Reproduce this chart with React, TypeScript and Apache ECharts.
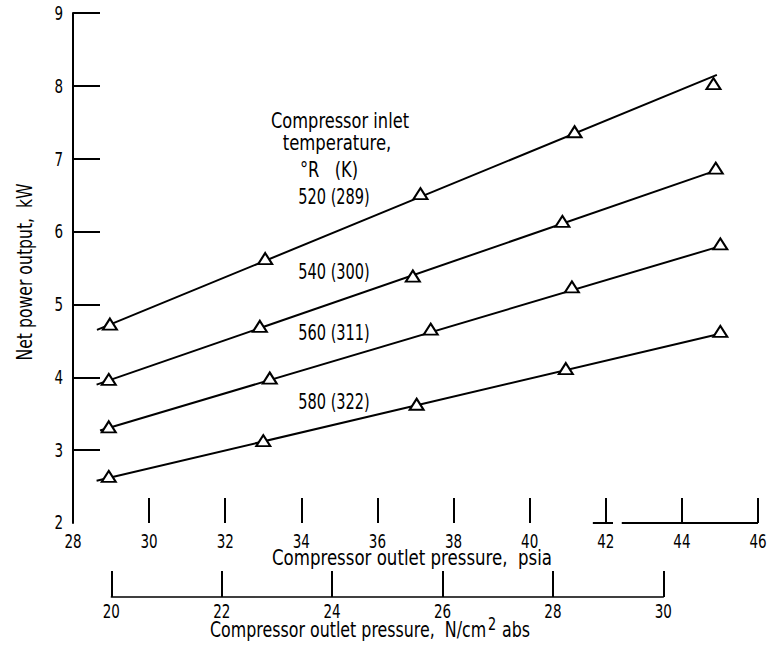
import React, { useEffect, useRef } from "react";
import * as echarts from "echarts";

// ---------- data ----------
const psiaRange = [28, 46];
const psiaStep = 2;
const powerRange = [2, 9];
const powerStep = 1;
const ncm2Range = [20, 30];
const ncm2Step = 2;
const PSI_TO_NCM2 = 0.689476;

const psiaTickLabels = ["28", "30", "32", "34", "36", "38", "40", "42", "44", "46"];
const powerTickLabels = ["2", "3", "4", "5", "6", "7", "8", "9"];
const ncm2TickLabels = ["20", "22", "24", "26", "28", "30"];

// measured points (psia, kW)
const points520 = [[28.97, 4.73], [33.05, 5.63], [37.13, 6.52], [41.18, 7.37], [44.83, 8.03]];
const points540 = [[28.94, 3.97], [32.91, 4.7], [36.93, 5.39], [40.86, 6.14], [44.89, 6.87]];
const points560 = [[28.94, 3.32], [33.17, 3.99], [37.4, 4.66], [41.11, 5.24], [45.01, 5.83]];
const points580 = [[28.94, 2.64], [33.0, 3.13], [37.03, 3.63], [40.95, 4.12], [45.01, 4.63]];

// faired lines (psia, kW)
const fit520 = [[28.63, 4.65], [44.92, 8.15]];
const fit540 = [[28.62, 3.9], [44.85, 6.83]];
const fit560 = [[28.71, 3.27], [44.95, 5.79]];
const fit580 = [[28.62, 2.58], [44.95, 4.59]];

// visible pieces of the psia axis line (psia)
const psiaAxisSegments = [[41.66, 42.19], [42.42, 46]];

const legendTitleLines = ["Compressor inlet", "temperature,", "\u00B0R   (K)"];
const seriesLabels = ["520 (289)", "540 (300)", "560 (311)", "580 (322)"];

const yAxisName = "Net power output,  kW";
const psiaAxisName = "Compressor outlet pressure,  psia";
const ncm2AxisNameParts = ["Compressor outlet pressure,  N/cm", "2", " abs"];

const FONT = '"Liberation Sans Narrow", "DejaVu Sans Condensed", "Arial Narrow", sans-serif';

export default function App() {
  const ref = useRef<HTMLDivElement>(null);

  useEffect(() => {
    if (!ref.current) return;
    const chart = echarts.init(ref.current, null, { renderer: "svg" });

    const W = 767;
    const gridLeft = 73;
    const gridRight = 9;
    const gridTop = 13;
    const gridBottom = 124;
    const plotW = W - gridLeft - gridRight;
    const pxPerPsi = plotW / (psiaRange[1] - psiaRange[0]);
    const nLeft = gridLeft + (ncm2Range[0] / PSI_TO_NCM2 - psiaRange[0]) * pxPerPsi;
    const nRight = gridLeft + (ncm2Range[1] / PSI_TO_NCM2 - psiaRange[0]) * pxPerPsi;
    const nAxisY = 597;

    const black = "#000";
    const tickVals = (a: number, b: number, s: number) => {
      const out: number[] = [];
      for (let v = a; v <= b + 1e-9; v += s) out.push(v);
      return out;
    };

    const pointSets = [points520, points540, points560, points580];
    const fitSets = [fit520, fit540, fit560, fit580];

    const series: any[] = [];
    fitSets.forEach((d, i) => {
      series.push({
        type: "line",
        name: "fit" + i,
        xAxisIndex: 0,
        yAxisIndex: 0,
        data: d,
        symbol: "none",
        clip: false,
        lineStyle: { color: black, width: 2 },
        z: 2,
      });
    });
    pointSets.forEach((d, i) => {
      series.push({
        type: "scatter",
        name: "pts" + i,
        xAxisIndex: 0,
        yAxisIndex: 0,
        data: d,
        symbol: "triangle",
        symbolSize: [14, 11],
        clip: false,
        itemStyle: { color: "#fff", borderColor: black, borderWidth: 2, opacity: 1 },
        z: 5,
      });
    });
    psiaAxisSegments.forEach((seg, i) => {
      series.push({
        type: "line",
        name: "axisSeg" + i,
        xAxisIndex: 0,
        yAxisIndex: 0,
        data: [[seg[0], powerRange[0]], [seg[1], powerRange[0]]],
        symbol: "none",
        clip: false,
        lineStyle: { color: black, width: 2 },
        z: 3,
      });
    });

    const option: any = {
      animation: false,
      backgroundColor: "#fff",
      grid: [
        {
          left: gridLeft,
          right: gridRight,
          top: gridTop,
          bottom: gridBottom,
          containLabel: false,
          outerBoundsMode: "none",
        },
        {
          left: nLeft,
          width: nRight - nLeft,
          top: nAxisY - 40,
          height: 40,
          containLabel: false,
          outerBoundsMode: "none",
        },
      ],
      xAxis: [
        {
          gridIndex: 0,
          type: "value",
          min: psiaRange[0],
          max: psiaRange[1],
          interval: psiaStep,
          axisLine: { show: false },
          axisTick: {
            show: true,
            inside: true,
            length: 25,
            customValues: tickVals(psiaRange[0] + psiaStep, psiaRange[1], psiaStep),
            lineStyle: { color: black, width: 2 },
          },
          axisLabel: { show: false },
          splitLine: { show: false },
        },
        {
          gridIndex: 1,
          type: "value",
          min: ncm2Range[0],
          max: ncm2Range[1],
          interval: ncm2Step,
          axisLine: { show: true, lineStyle: { color: black, width: 1.5 } },
          axisTick: {
            show: true,
            inside: true,
            length: 26,
            lineStyle: { color: black, width: 2 },
          },
          axisLabel: { show: false },
          splitLine: { show: false },
        },
      ],
      yAxis: [
        {
          gridIndex: 0,
          type: "value",
          min: powerRange[0],
          max: powerRange[1],
          interval: powerStep,
          axisLine: { show: true, lineStyle: { color: black, width: 2 } },
          axisTick: {
            show: true,
            inside: true,
            length: 27,
            customValues: tickVals(powerRange[0] + powerStep, powerRange[1], powerStep),
            lineStyle: { color: black, width: 2 },
          },
          axisLabel: { show: false },
          splitLine: { show: false },
        },
        { gridIndex: 1, type: "value", show: false, min: 0, max: 1 },
      ],
      series,
    };

    chart.setOption(option);

    // ----- texts, placed through the axes' own scales -----
    const xPix = (axis: number, v: number) => chart.convertToPixel({ xAxisIndex: axis }, v) as number;
    const yPix = (v: number) => chart.convertToPixel({ yAxisIndex: 0 }, v) as number;
    const psiaAxisY = yPix(powerRange[0]);

    const txt = (
      text: string,
      x: number,
      y: number,
      size: number,
      sx: number,
      align = "center",
      extra: any = {}
    ) => ({
      type: "text",
      x,
      y,
      scaleX: sx,
      silent: true,
      style: {
        text,
        fontFamily: FONT,
        fontSize: size,
        fill: black,
        align,
        verticalAlign: "middle",
        ...extra,
      },
    });

    const graphic: any[] = [];
    psiaTickLabels.forEach((t) => {
      graphic.push(txt(t, xPix(0, parseFloat(t)), psiaAxisY + 18, 20, 0.75));
    });
    ncm2TickLabels.forEach((t) => {
      graphic.push(txt(t, xPix(1, parseFloat(t)), nAxisY + 14, 20, 0.75));
    });
    powerTickLabels.forEach((t) => {
      const v = parseFloat(t);
      graphic.push(txt(t, gridLeft - 10, yPix(v) - (v === powerRange[0] ? 1 : 0), 20, 0.75, "right"));
    });

    const titleX = [340, 337, 329];
    const titleY = [121, 143, 170];
    const titleScale = [0.86, 0.87, 0.86];
    legendTitleLines.forEach((t, i) => {
      graphic.push(txt(t, titleX[i], titleY[i], 21, titleScale[i]));
    });
    const labelY = [197, 272, 333, 402];
    seriesLabels.forEach((t, i) => {
      graphic.push(txt(t, 334, labelY[i], 21, 0.77));
    });

    graphic.push(txt(psiaAxisName, 412, 558, 21, 0.88));
    graphic.push(
      txt(
        `{a|${ncm2AxisNameParts[0]}}{s|${ncm2AxisNameParts[1]}}{a|${ncm2AxisNameParts[2]}}`,
        370,
        630,
        21,
        0.84,
        "center",
        {
          rich: {
            a: { fontFamily: FONT, fontSize: 21, fill: black },
            s: { fontFamily: FONT, fontSize: 17, fill: black, padding: [0, 1, 12, 2] },
          },
        }
      )
    );
    graphic.push({
      ...txt(yAxisName, 25, (yPix(powerRange[0]) + yPix(powerRange[1])) / 2 + 4, 21, 0.83),
      rotation: Math.PI / 2,
    });

    chart.setOption({ graphic });
    return () => chart.dispose();
  }, []);

  return (
    <div
      ref={ref}
      style={{ position: "fixed", left: 0, top: 0, width: 767, height: 647, background: "#fff" }}
    />
  );
}
